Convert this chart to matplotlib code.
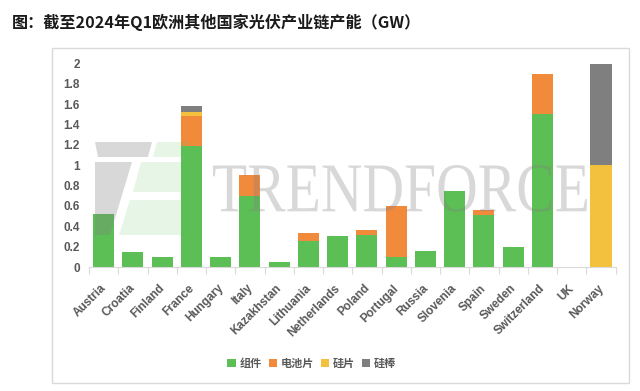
import numpy as np
import matplotlib
matplotlib.use("Agg")
import matplotlib.pyplot as plt
from matplotlib.patches import Rectangle, Polygon, PathPatch
from matplotlib.textpath import TextPath
from matplotlib.font_manager import FontProperties
from matplotlib.transforms import Affine2D

plt.rcParams['font.family'] = ['Noto Sans CJK SC', 'DejaVu Sans']

countries = ['Austria', 'Croatia', 'Finland', 'France', 'Hungary', 'Italy',
             'Kazakhstan', 'Lithuania', 'Netherlands', 'Poland', 'Portugal',
             'Russia', 'Slovenia', 'Spain', 'Sweden', 'Switzerland', 'UK', 'Norway']
module = [0.52, 0.15, 0.10, 1.19, 0.10, 0.70, 0.045, 0.26, 0.30, 0.31, 0.10,
          0.16, 0.75, 0.51, 0.20, 1.50, 0, 0]
cell = [0, 0, 0, 0.29, 0, 0.20, 0, 0.07, 0, 0.05, 0.50,
        0, 0, 0.05, 0, 0.40, 0, 0]
wafer = [0, 0, 0, 0.04, 0, 0, 0, 0, 0, 0, 0,
         0, 0, 0, 0, 0, 0, 1.0]
ingot = [0, 0, 0, 0.06, 0, 0, 0, 0, 0, 0, 0,
         0, 0, 0, 0, 0, 0, 1.0]
series_names = ['组件', '电池片', '硅片', '硅棒']
yticks = [0, 0.2, 0.4, 0.6, 0.8, 1, 1.2, 1.4, 1.6, 1.8, 2]
title = '图：截至2024年Q1欧洲其他国家光伏产业链产能（GW）'

colors = ['#5cbf55', '#f28a3c', '#f4c13e', '#7f7f7f']
label_color = '#595959'
W, H = 640, 391

fig = plt.figure(figsize=(6.4, 3.91), dpi=100)
ax = fig.add_axes([89/W, 1-267/H, (615.6-89)/W, (267-63.5)/H])

x = np.arange(len(countries))
bottom = np.zeros(len(countries))
handles = []
for vals, name, c in zip([module, cell, wafer, ingot], series_names, colors):
    vals = np.array(vals)
    b = ax.bar(x, vals, 0.72, bottom=bottom, color=c, label=name, zorder=2)
    handles.append(b)
    bottom += vals

ax.set_xlim(-0.5, len(countries)-0.5)
ax.set_ylim(0, 2)
ax.set_yticks(yticks)
ax.set_yticklabels(['%g' % v for v in yticks], fontsize=8.5, fontweight='bold',
                   color=label_color, family=['Liberation Sans', 'DejaVu Sans'])
ax.tick_params(axis='y', length=0, pad=6.5)

ax.set_xticks(x - 0.12)
ax.set_xticklabels(countries, rotation=45, ha='right', rotation_mode='anchor',
                   fontsize=8.5, fontweight='bold', color=label_color,
                   family=['Liberation Sans', 'DejaVu Sans'])
ax.tick_params(axis='x', length=0, pad=11)
ax.set_xticks(np.arange(-0.5, len(countries)), minor=True)
ax.tick_params(axis='x', which='minor', length=5, color='#d9d9d9', width=0.8)

for s in ['top', 'right', 'left']:
    ax.spines[s].set_visible(False)
ax.spines['bottom'].set_color('#d9d9d9')
ax.spines['bottom'].set_linewidth(0.8)

fig.legend(handles=handles, labels=series_names, loc='center',
           bbox_to_anchor=(312/W, 1-363/H), ncol=4, frameon=False,
           handlelength=0.75, handleheight=0.75, handletextpad=0.35,
           columnspacing=0.6,
           prop={'size': 8, 'weight': 'bold'}, labelcolor=label_color)

fig.text(12/W, 1-22/H, title, fontsize=11.6, fontweight='bold', color='#1a1a1a',
         va='center', ha='left')

# overlay in pixel coords: frame + watermark
ov = fig.add_axes([0, 0, 1, 1], zorder=5)
ov.set_xlim(0, W)
ov.set_ylim(H, 0)
ov.axis('off')
ov.patch.set_alpha(0)
ov.add_patch(Rectangle((52, 48), 577, 335, fill=False, edgecolor='#d9d9d9', lw=1))

# TrendForce watermark
tp = TextPath((0, 0), 'TRENDFORCE', size=10,
              prop=FontProperties(family='Liberation Serif'))
ext = tp.get_extents()
sx = (587-213)/ext.width
sy = (212-165)/ext.height
tr = Affine2D().translate(-ext.x0, -ext.y0).scale(sx, -sy).translate(213, 212)
ov.add_patch(PathPatch(tr.transform_path(tp), facecolor='#808080',
                       edgecolor='none', alpha=0.3))
ov.add_patch(Polygon([(95, 142), (152, 142), (148, 157), (98, 157)],
                     facecolor='#808080', alpha=0.3, edgecolor='none'))
ov.add_patch(Polygon([(95, 162), (132, 162), (110, 235), (95, 235)],
                     facecolor='#808080', alpha=0.3, edgecolor='none'))
ov.add_patch(Polygon([(157, 142), (189, 142), (188, 157), (153, 157)],
                     facecolor='#5cbf55', alpha=0.15, edgecolor='none'))
ov.add_patch(Polygon([(141, 162), (188, 162), (187, 192), (133, 192)],
                     facecolor='#5cbf55', alpha=0.15, edgecolor='none'))
ov.add_patch(Polygon([(130, 200), (186, 200), (185, 235), (119, 235)],
                     facecolor='#5cbf55', alpha=0.15, edgecolor='none'))

fig.savefig('out.png', dpi=100)
